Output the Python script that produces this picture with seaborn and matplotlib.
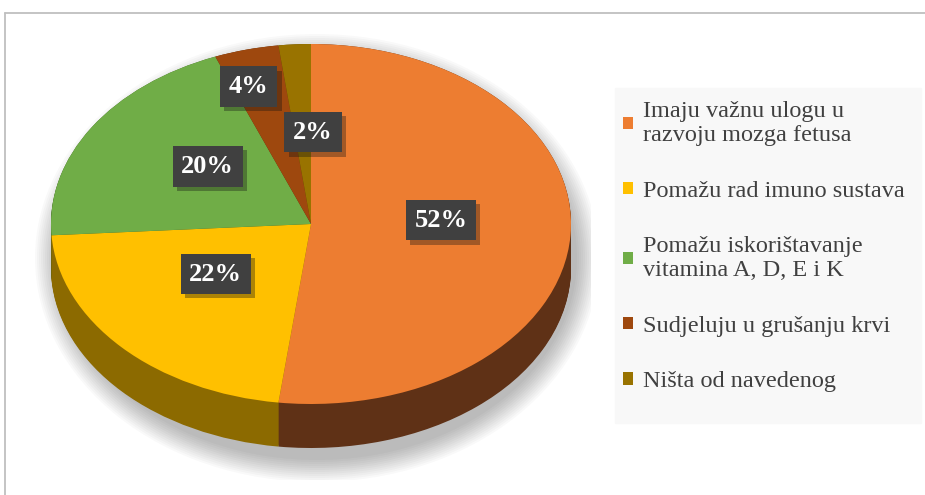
import matplotlib
matplotlib.use("Agg")
import matplotlib.pyplot as plt
import matplotlib.patheffects as pe
from matplotlib.lines import Line2D
from matplotlib.patches import Rectangle, Ellipse
import numpy as np
import seaborn as sns

labels = ["Imaju važnu ulogu u\nrazvoju mozga fetusa",
          "Pomažu rad imuno sustava",
          "Pomažu iskorištavanje\nvitamina A, D, E i K",
          "Sudjeluju u grušanju krvi",
          "Ništa od navedenog"]
values = [52, 22, 20, 4, 2]
top_colors = sns.color_palette(["#ED7D31", "#FFC000", "#70AD47", "#9E480E", "#997300"])
side_colors = sns.color_palette(["#5F3116", "#8C6A00", "#3F6127", "#5A2907", "#5C4500"])

sns.set_theme(style="white")
plt.rcParams["font.family"] = ["Liberation Serif", "DejaVu Serif"]

W, H = 925, 495
fig = plt.figure(figsize=(W / 100, H / 100), dpi=100)

# outer frame (only left and top edges visible)
fig.add_artist(Line2D([5 / W, 5 / W], [0, 1 - 13 / H], color="#BFBFBF", lw=1.3))
fig.add_artist(Line2D([5 / W, 1], [1 - 13 / H, 1 - 13 / H], color="#BFBFBF", lw=1.3))
# legend background
fig.add_artist(Rectangle((615 / W, 1 - 423 / H), (921 - 615) / W, (423 - 88) / H,
                         transform=fig.transFigure, color="#F8F8F8", zorder=0))

# pie geometry in pixels
cx, cy, rx, ry, depth = 311, 224, 260, 180, 44
left, right, top, bottom = 31, 591, 30, 480
ax = fig.add_axes([left / W, 1 - bottom / H, (right - left) / W, (bottom - top) / H])
d = depth / ry

# soft shadow
for s in np.linspace(22, 0, 12):
    ax.add_patch(Ellipse((6 / rx, -d / 2 - 12 / ry), 2 + 2 * s / rx, 2 + d + 2 * s / ry,
                         color="black", alpha=0.025, lw=0, zorder=0))

# side of the 3D pie
for k in np.linspace(d, 0, 45):
    ax.pie(values, colors=side_colors, startangle=90, counterclock=False,
           center=(0, -k), wedgeprops=dict(linewidth=0))

# top face
wedges, _, autotexts = ax.pie(values, colors=top_colors, startangle=90, counterclock=False,
                              autopct="%1.0f%%", pctdistance=0.5,
                              wedgeprops=dict(linewidth=0),
                              textprops=dict(color="white", fontsize=19, fontweight="bold"))

label_dist = [0.5, 0.46, 0.51, 0.80, 0.51]
label_shift = [6, -6, -6.5, 3, -4.5]
for w, t, r, sh in zip(wedges, autotexts, label_dist, label_shift):
    mid = np.deg2rad((w.theta1 + w.theta2) / 2 + sh)
    t.set_position((r * np.cos(mid), r * np.sin(mid)))
    t.set_bbox(dict(boxstyle="square,pad=0.33", facecolor="#404040", edgecolor="none"))
    t.get_bbox_patch().set_path_effects([pe.SimplePatchShadow(offset=(3, -3), alpha=0.35),
                                         pe.Normal()])
    t.set_zorder(5)

ax.set_aspect("auto")
ax.set_xlim((left - cx) / rx, (right - cx) / rx)
ax.set_ylim(-(bottom - cy) / ry, (cy - top) / ry)
ax.axis("off")

leg = fig.legend(wedges, labels, loc="upper left", bbox_to_anchor=(601 / W, 1 - 79 / H),
                 frameon=False, fontsize=17.5, labelspacing=1.42, handlelength=0.42,
                 handleheight=0.42, handletextpad=0.42, labelcolor="#404040")

fig.savefig("out.png", dpi=100)
